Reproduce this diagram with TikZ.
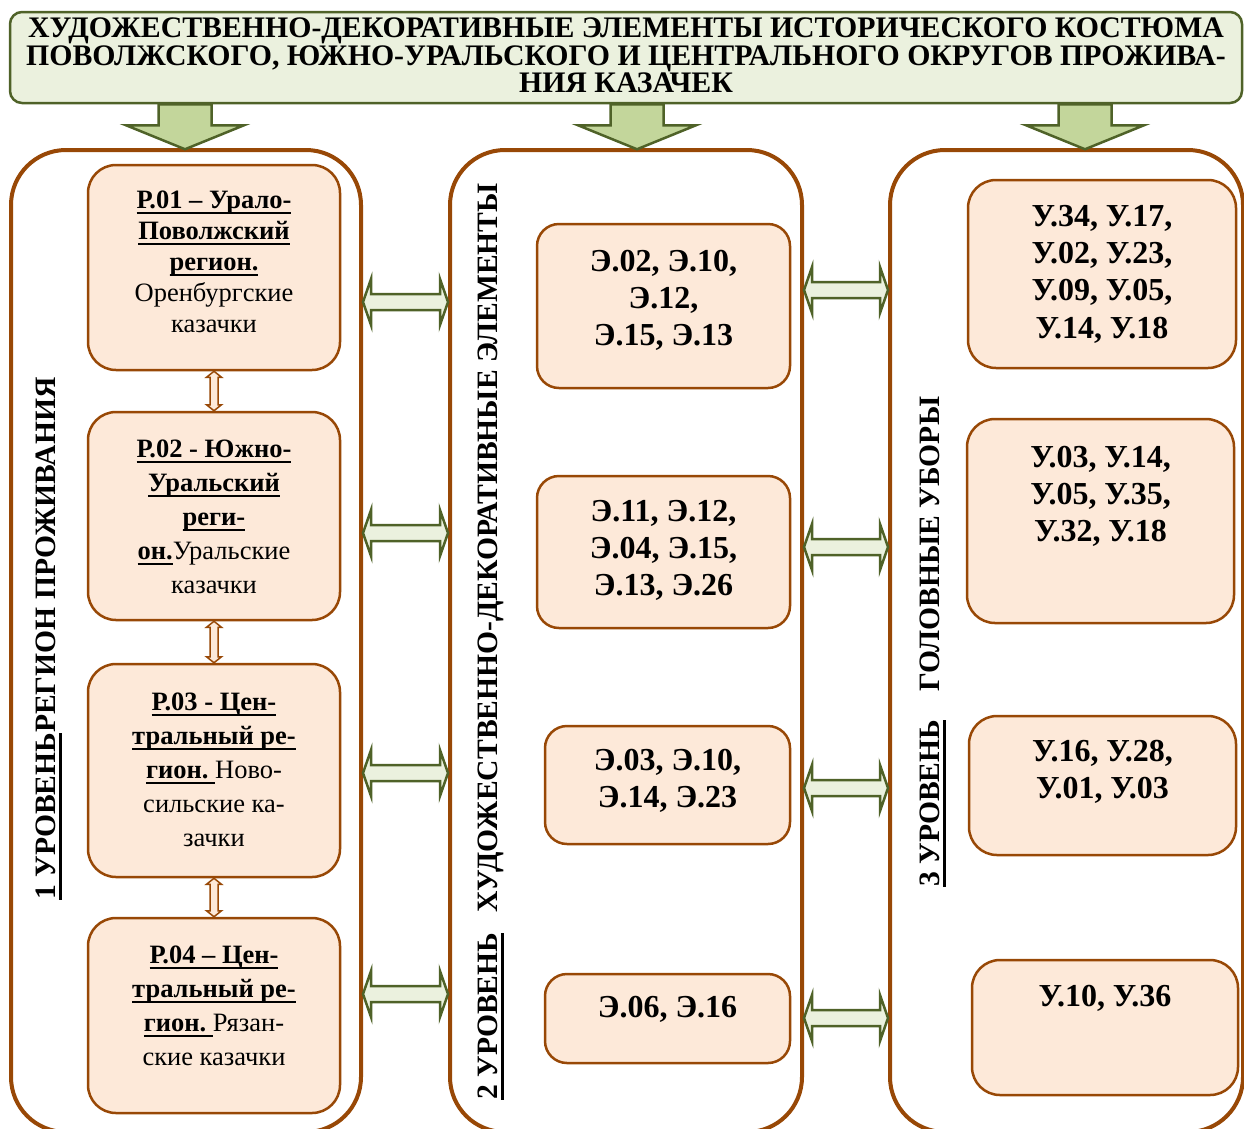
\documentclass[tikz,border=0pt]{standalone}
\usepackage{fontspec}
\setmainfont{Liberation Serif}
\usetikzlibrary{positioning,calc}
\definecolor{brun}{RGB}{152,72,6}
\definecolor{peche}{RGB}{253,233,217}
\definecolor{vertfonce}{RGB}{79,98,40}
\definecolor{vertpale}{RGB}{235,241,222}
\definecolor{vertmoyen}{RGB}{195,214,155}

% souligne : profondeur, epaisseur, texte
\newcommand{\souligne}[3]{\setbox0\hbox{#3}\rlap{\rule[-#1]{\wd0}{#2}}\box0}

% fleche double horizontale entre deux points
\newcommand{\doublefleche}[2]{%
  \draw[flecheH] let \p1=(#1), \p2=(#2) in
    (\p1) -- (\x1+8pt,\y1+23pt) -- (\x1+8pt,\y1+8pt) -- (\x2-8pt,\y1+8pt)
    -- (\x2-8pt,\y1+23pt) -- (\x2,\y1) -- (\x2-8pt,\y1-23pt) -- (\x2-8pt,\y1-8pt)
    -- (\x1+8pt,\y1-8pt) -- (\x1+8pt,\y1-23pt) -- cycle;}

% petite fleche double verticale
\newcommand{\petitefleche}[2]{%
  \draw[flecheV] let \p1=(#1), \p2=(#2) in
    (\p1) -- (\x1+7.5pt,\y1-6pt) -- (\x1+4pt,\y1-6pt) -- (\x1+4pt,\y2+6pt)
    -- (\x1+7.5pt,\y2+6pt) -- (\x1,\y2) -- (\x1-7.5pt,\y2+6pt) -- (\x1-4pt,\y2+6pt)
    -- (\x1-4pt,\y1-6pt) -- (\x1-7.5pt,\y1-6pt) -- cycle;}

\begin{document}
\begin{tikzpicture}[x=1pt, y=-1pt,
  colonne/.style={draw=brun, line width=4pt, rounded corners=55pt, fill=white, inner sep=0pt},
  boite/.style={draw=brun, line width=2.5pt, fill=peche, rounded corners=28pt, inner sep=0pt},
  texteR/.style={inner sep=0pt, align=center, font=\fontsize{26.5}{34}\selectfont},
  texteC/.style={inner sep=0pt, align=center, font=\fontsize{32}{37.3}\selectfont\bfseries},
  niveau/.style={rotate=90, anchor=base west, inner sep=0pt, font=\fontsize{29.6}{30}\selectfont\bfseries},
  flecheB/.style={draw=vertfonce, line width=2.5pt, fill=vertmoyen, line join=miter},
  flecheH/.style={draw=vertfonce, line width=2.5pt, fill=vertpale, line join=miter},
  flecheV/.style={draw=brun, line width=1.5pt, fill=peche, line join=miter}]

\useasboundingbox (0,0) rectangle (1244,1128);

% Titre
\node[draw=vertfonce, line width=2.5pt, fill=vertpale, rounded corners=12pt,
  minimum width=1232pt, minimum height=91pt, inner sep=0pt] (titre) at (626,57.5) {};
\node[align=center, inner sep=0pt, font=\fontsize{29.8}{27.5}\selectfont\bfseries,
  below=7pt of titre.north] (titretxt)
  {ХУДОЖЕСТВЕННО-ДЕКОРАТИВНЫЕ ЭЛЕМЕНТЫ ИСТОРИЧЕСКОГО КОСТЮМА\\
   ПОВОЛЖСКОГО, ЮЖНО-УРАЛЬСКОГО И ЦЕНТРАЛЬНОГО ОКРУГОВ ПРОЖИВА-\\
   НИЯ КАЗАЧЕК};

% Colonnes
\node[colonne, minimum width=350pt, minimum height=982pt] (colG) at (186,641) {};
\node[colonne, minimum width=352pt, minimum height=982pt] (colM) at (626,641) {};
\node[colonne, minimum width=353pt, minimum height=982pt] (colD) at (1066.5,641) {};

% Fleches vers le bas
\foreach \xx in {185,637,1085} {
  \draw[flecheB] (titre.south -| \xx,0) ++(-26.5,0) -- ++(0,21) -- ++(-32.5,0)
    -- ++(59,24) -- ++(59,-24) -- ++(-32.5,0) -- ++(0,-21) -- cycle;
}

% Niveaux
\node[niveau] (niv1) at (55,900) {\souligne{7pt}{3pt}{1 УРОВЕНЬ}РЕГИОН ПРОЖИВАНИЯ};
\node[niveau] (niv2) at (497,1100) {\souligne{7pt}{3pt}{2 УРОВЕНЬ}\hspace{20pt}ХУДОЖЕСТВЕННО-ДЕКОРАТИВНЫЕ ЭЛЕМЕНТЫ};
\node[niveau] (niv3) at (939,887) {\souligne{7pt}{3pt}{3 УРОВЕНЬ}\hspace{28pt}ГОЛОВНЫЕ УБОРЫ};

% Regions
\node[boite, minimum width=252pt, minimum height=205pt] (r1) at (214,267.5) {};
\node[boite, minimum width=252pt, minimum height=208pt] (r2) at (214,516) {};
\node[boite, minimum width=252pt, minimum height=213pt] (r3) at (214,770.5) {};
\node[boite, minimum width=252pt, minimum height=195pt] (r4) at (214,1015.5) {};

\node[texteR, font=\fontsize{26.5}{31}\selectfont, below=27pt of r1.north] (tr1)
  {\souligne{5pt}{2pt}{\textbf{Р.01 – Урало-}}\\
   \souligne{5pt}{2pt}{\textbf{Поволжский}}\\
   \souligne{5pt}{2pt}{\textbf{регион.}}\\
   Оренбургские\\ казачки};
\node[texteR, below=29pt of r2.north] (tr2)
  {\souligne{5pt}{2pt}{\textbf{Р.02 - Южно-}}\\
   \souligne{5pt}{2pt}{\textbf{Уральский}}\\
   \souligne{5pt}{2pt}{\textbf{реги-}}\\
   \souligne{5pt}{2pt}{\textbf{он.}}Уральские\\ казачки};
\node[texteR, below=30pt of r3.north] (tr3)
  {\souligne{5pt}{2pt}{\textbf{Р.03 - Цен-}}\\
   \souligne{5pt}{2pt}{\textbf{тральный ре-}}\\
   \souligne{5pt}{2pt}{\textbf{гион.}\ }Ново-\\
   сильские ка-\\ зачки};
\node[texteR, below=29pt of r4.north] (tr4)
  {\souligne{5pt}{2pt}{\textbf{Р.04 – Цен-}}\\
   \souligne{5pt}{2pt}{\textbf{тральный ре-}}\\
   \souligne{5pt}{2pt}{\textbf{гион.}\ }Рязан-\\
   ские казачки};

% Elements
\node[boite, rounded corners=22pt, minimum width=253pt, minimum height=164pt] (e1) at (663.5,306) {};
\node[boite, rounded corners=22pt, minimum width=253pt, minimum height=152pt] (e2) at (663.5,552) {};
\node[boite, rounded corners=22pt, minimum width=245pt, minimum height=118pt] (e3) at (667.5,785) {};
\node[boite, rounded corners=22pt, minimum width=245pt, minimum height=89pt] (e4) at (667.5,1018.5) {};

\node[texteC, below=27pt of e1.north] (te1) {Э.02, Э.10,\\ Э.12,\\ Э.15, Э.13};
\node[texteC, below=25pt of e2.north] (te2) {Э.11, Э.12,\\ Э.04, Э.15,\\ Э.13, Э.26};
\node[texteC, below=24pt of e3.north] (te3) {Э.03, Э.10,\\ Э.14, Э.23};
\node[texteC, below=23pt of e4.north] (te4) {Э.06, Э.16};

% Uboры
\node[boite, minimum width=268pt, minimum height=188pt] (u1) at (1102,274) {};
\node[boite, minimum width=267pt, minimum height=204pt] (u2) at (1100.5,521) {};
\node[boite, minimum width=267pt, minimum height=139pt] (u3) at (1102.5,785.5) {};
\node[boite, minimum width=266pt, minimum height=135pt] (u4) at (1105,1027.5) {};

\node[texteC, below=26pt of u1.north] (tu1) {У.34, У.17,\\ У.02, У.23,\\ У.09, У.05,\\ У.14, У.18};
\node[texteC, below=28pt of u2.north] (tu2) {У.03, У.14,\\ У.05, У.35,\\ У.32, У.18};
\node[texteC, below=25pt of u3.north] (tu3) {У.16, У.28,\\ У.01, У.03};
\node[texteC, below=26pt of u4.north] (tu4) {У.10, У.36};

% Liaisons entre regions
\petitefleche{r1.south}{r2.north}
\petitefleche{r2.south}{r3.north}
\petitefleche{r3.south}{r4.north}

% Liaisons entre colonnes
\foreach \yy in {302,533,773,994} {
  \doublefleche{colG.east |- 0,\yy}{colM.west |- 0,\yy}
}
\foreach \yy in {290,547,788,1018} {
  \doublefleche{colM.east |- 0,\yy}{colD.west |- 0,\yy}
}

\end{tikzpicture}
\end{document}
